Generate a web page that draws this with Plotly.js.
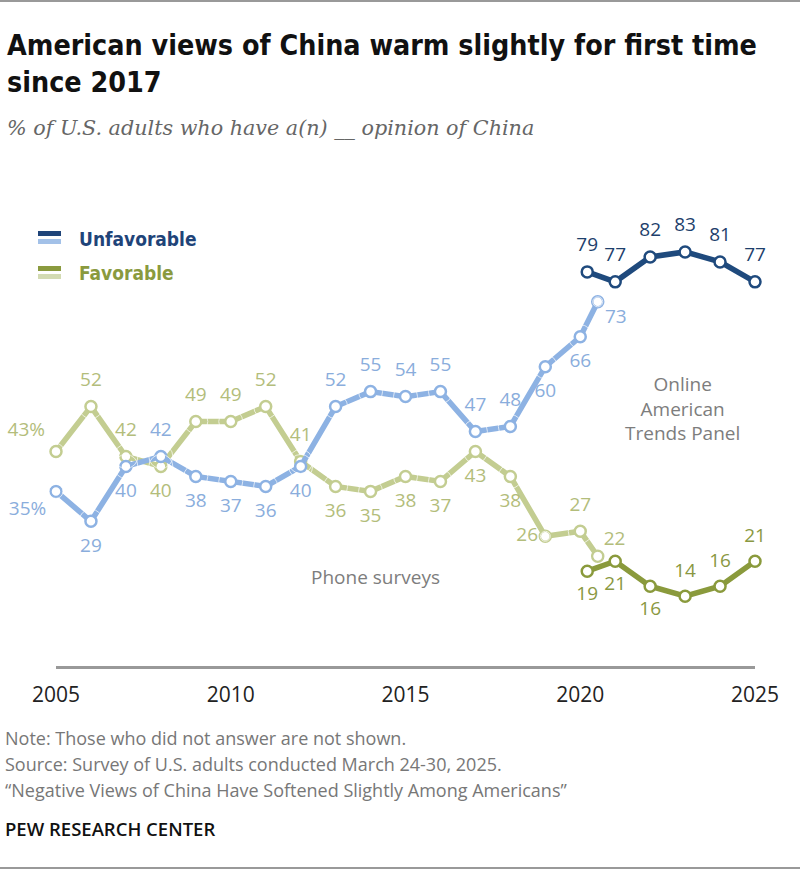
<!DOCTYPE html>
<html>
<head>
<meta charset="utf-8">
<script src="https://cdn.plot.ly/plotly-3.0.1.min.js"></script>
<style>
  body { margin: 0; background: #fff; }
  #chart { width: 800px; height: 870px; }
</style>
</head>
<body>
<div id="chart"></div>
<script>
// phone surveys, 2005 - mid 2020
var phoneYears = [2005, 2006, 2007, 2008, 2009, 2010, 2011, 2012, 2013, 2014, 2015, 2016, 2017, 2018, 2019, 2020, 2020.5]
var phoneUnfav = [35, 29, 40, 42, 38, 37, 36, 40, 52, 55, 54, 55, 47, 48, 60, 66, 73]
var phoneFav = [43, 52, 42, 40, 49, 49, 52, 41, 36, 35, 38, 37, 43, 38, 26, 27, 22]

// online American Trends Panel
var onlineYears = [2020.2, 2021, 2022, 2023, 2024, 2025]
var onlineUnfav = [79, 77, 82, 83, 81, 77]
var onlineFav = [19, 21, 16, 14, 16, 21]

var tickYears = [2005, 2010, 2015, 2020, 2025]

// where each label sits relative to its point
var phoneUnfavPos = ['bottom left', 'bottom center', 'bottom center', 'top center', 'bottom center',
    'bottom center', 'bottom center', 'bottom center', 'top center', 'top center', 'top center',
    'top center', 'top center', 'top center', 'bottom center', 'bottom center', 'bottom right']
var phoneFavPos = ['top left', 'top center', 'top center', 'bottom center', 'top center',
    'top center', 'top center', 'top center', 'bottom center', 'bottom center', 'bottom center',
    'bottom center', 'bottom center', 'bottom center', 'middle left', 'top center', 'top right']
var onlineUnfavPos = ['top center', 'top center', 'top center', 'top center', 'top center', 'top center']
var onlineFavPos = ['bottom center', 'bottom center', 'bottom center', 'top center', 'top center', 'top center']

// plot area in pixels
var W = 800, H = 870
var L = 56, R = 45, T = 217, B = 204
function px (x) { return (x - L) / (W - L - R) }
function py (y) { return (H - B - y) / (H - T - B) }

var sans = 'Open Sans, Liberation Sans, Arial, sans-serif'
var cond = 'DejaVu Sans Condensed, Liberation Sans, sans-serif'

function labels (vals, first) {
    return vals.map(function (v, i) { return i === 0 && first ? v + '%' : String(v) })
}

// the line with its markers
function line (x, y, color) {
    return {
        x: x,
        y: y,
        type: 'scatter',
        mode: 'lines+markers',
        cliponaxis: false,
        hoverinfo: 'none',
        line: { color: color, width: 5.5 },
        marker: { symbol: 'circle', size: 11, color: '#fff', line: { color: color, width: 2.5 } }
    }
}

// value labels; the hidden marker only pushes the text a bit further from the point
function text (x, y, pos, color, pct, gap) {
    return {
        x: x,
        y: y,
        type: 'scatter',
        mode: 'markers+text',
        text: labels(y, pct),
        textposition: pos,
        textfont: { family: sans, size: 19, color: color },
        cliponaxis: false,
        hoverinfo: 'none',
        marker: { size: gap, color: 'rgba(0,0,0,0)' }
    }
}

var phoneFavGap = phoneYears.map(function (yr, i) { return i === 0 ? 16 : (i === 14 ? 10 : (i === 16 ? 8 : 24)) })
var phoneUnfavGap = phoneYears.map(function (yr, i) { return i === 0 ? 14 : (i === 16 ? 10 : 24) })

var data = [
    line(phoneYears, phoneFav, '#c3cd91'),
    line(phoneYears, phoneUnfav, '#8db2e3'),
    line(onlineYears, onlineFav, '#8a9a3c'),
    line(onlineYears, onlineUnfav, '#1f4a7d'),
    text(phoneYears, phoneFav, phoneFavPos, '#b3bd7b', true, phoneFavGap),
    text(phoneYears, phoneUnfav, phoneUnfavPos, '#8aaddc', true, phoneUnfavGap),
    text(onlineYears, onlineFav, onlineFavPos, '#8a9842', false, 22),
    text(onlineYears, onlineUnfav, onlineUnfavPos, '#1e3f6c', false, 24)
]

var gray = '#7d7d7d'
var note = '#777'
var annotations = [
    { text: 'American views of China warm slightly for first time<br>since 2017', x: px(5), y: py(27),
        xanchor: 'left', yanchor: 'top', align: 'left',
        font: { family: cond, size: 28.4, color: '#111', weight: 'bold' } },
    { text: '% of U.S. adults who have a(n) __ opinion of China', x: px(5), y: py(128),
        xanchor: 'left', yanchor: 'middle',
        font: { family: 'DejaVu Serif, Georgia, serif', size: 20.7, color: '#666', style: 'italic' } },
    { text: 'Unfavorable', x: px(77), y: py(239), xanchor: 'left', yanchor: 'middle',
        font: { family: cond, size: 19, color: '#1f4479', weight: 'bold' } },
    { text: 'Favorable', x: px(77), y: py(273), xanchor: 'left', yanchor: 'middle',
        font: { family: cond, size: 19, color: '#8a9a3e', weight: 'bold' } },
    { text: 'Online<br>American<br>Trends Panel', x: px(682), y: py(408), xanchor: 'center', yanchor: 'middle',
        align: 'center', font: { family: sans, size: 19, color: gray } },
    { text: 'Phone surveys', x: px(375), y: py(577), xanchor: 'center', yanchor: 'middle',
        font: { family: sans, size: 19, color: gray } },
    { text: 'Note: Those who did not answer are not shown.', x: px(3), y: py(738),
        xanchor: 'left', yanchor: 'middle', font: { family: sans, size: 18, color: note } },
    { text: 'Source: Survey of U.S. adults conducted March 24-30, 2025.', x: px(3), y: py(764),
        xanchor: 'left', yanchor: 'middle', font: { family: sans, size: 18, color: note } },
    { text: '\u201cNegative Views of China Have Softened Slightly Among Americans\u201d', x: px(3), y: py(790),
        xanchor: 'left', yanchor: 'middle', font: { family: sans, size: 18, color: note } },
    { text: 'PEW RESEARCH CENTER', x: px(3), y: py(828), xanchor: 'left', yanchor: 'middle',
        font: { family: sans, size: 18.5, color: '#111', weight: 600 } }
]
annotations.forEach(function (a) {
    a.xref = 'paper'
    a.yref = 'paper'
    a.showarrow = false
})

function swatch (y0, y1, color) {
    return { type: 'rect', xref: 'paper', yref: 'paper', x0: px(38), x1: px(61), y0: py(y1), y1: py(y0),
        fillcolor: color, line: { width: 0 } }
}

var shapes = [
    swatch(231, 236, '#1f4479'),
    swatch(239, 244, '#a3c1e8'),
    swatch(266, 271, '#8a9a3e'),
    swatch(274, 279, '#d3dbb3'),
    { type: 'line', xref: 'paper', yref: 'paper', x0: px(0), x1: px(800), y0: py(1), y1: py(1),
        line: { color: '#999', width: 2 } },
    { type: 'line', xref: 'paper', yref: 'paper', x0: px(0), x1: px(800), y0: py(868), y1: py(868),
        line: { color: '#999', width: 2 } }
]

var layout = {
    width: W,
    height: H,
    margin: { l: L, r: R, t: T, b: B },
    paper_bgcolor: '#fff',
    plot_bgcolor: '#fff',
    showlegend: false,
    xaxis: {
        range: [2005, 2025],
        tickvals: tickYears,
        ticktext: tickYears.map(String),
        showgrid: false,
        zeroline: false,
        showline: true,
        linecolor: '#999',
        linewidth: 2.5,
        ticks: '',
        ticklabelstandoff: 8,
        tickfont: { family: sans, size: 21, color: '#222' }
    },
    yaxis: {
        range: [0, 90],
        visible: false,
        showgrid: false,
        zeroline: false
    },
    annotations: annotations,
    shapes: shapes
}

Plotly.newPlot('chart', data, layout, { displayModeBar: false, staticPlot: true })
</script>
</body>
</html>
